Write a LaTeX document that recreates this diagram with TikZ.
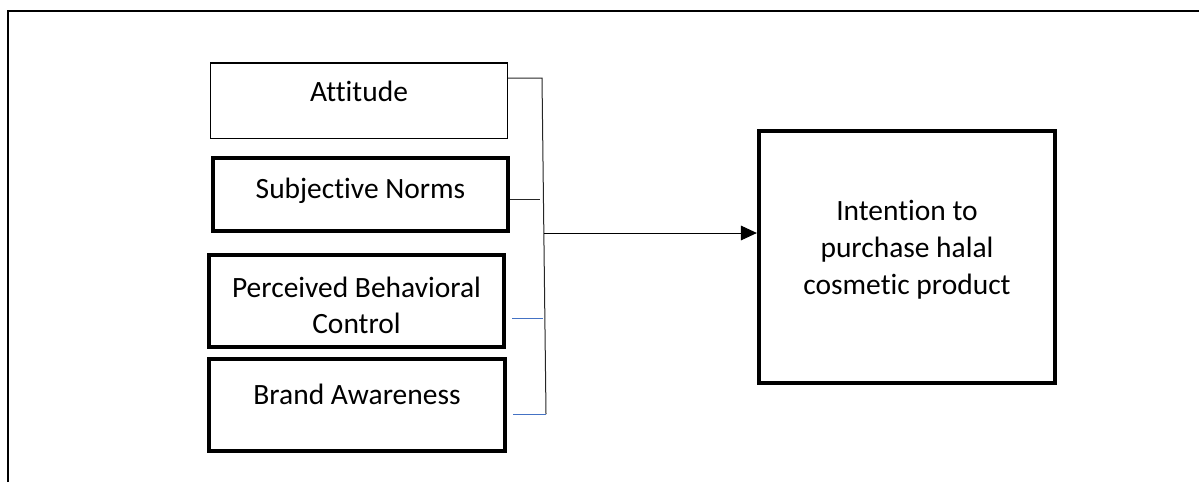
\documentclass[tikz,border=0pt]{standalone}
\usepackage{fontspec}
\setmainfont{Carlito}[Ligatures=NoCommon]
\usepackage{tikz}
\usetikzlibrary{arrows.meta}
\definecolor{linkblue}{HTML}{4472C4}
\tikzstyle{model}=[x=0.75pt, y=-0.75pt, font=\fontsize{22.1}{27.5}\selectfont]
\tikzstyle{frame}=[line width=1.5pt]
\tikzstyle{factor}=[rectangle, draw, align=center, line width=3pt, minimum width=221.5pt, text height=15.5pt]
\tikzstyle{thinfactor}=[factor, line width=1.1pt]
\tikzstyle{outcome}=[factor, line width=3.2pt, minimum width=222pt, minimum height=189pt]
\tikzstyle{link}=[draw=black!85, line width=0.75pt]
\tikzstyle{bluelink}=[draw=linkblue, line width=0.75pt]
\tikzstyle{effect}=[draw=black, line width=0.75pt, -{Triangle[length=12pt, width=11pt]}]
\begin{document}
\begin{tikzpicture}[model]
		\useasboundingbox (0,0) rectangle (1199,482);
		%The page frame
		\draw[frame] (8,482) -- (8,11) -- (1199,11);

		%The predictors
		\node[thinfactor, minimum width=222.4pt, minimum height=56.6pt, text depth=13.5pt] (att) at (359,100.5) {Attitude};
		\node[factor, minimum height=54.8pt, text depth=9.7pt] (sn) at (360.5,194.5) {Subjective Norms};
		\node[factor, minimum height=69pt, text height=49pt, text depth=0pt] (pbc) at (356.5,301) {Perceived Behavioral\\Control};
		\node[factor, minimum width=222pt, minimum height=69pt, text depth=15.7pt] (ba) at (357,405) {Brand Awareness};

		%The outcome
		\node[outcome, text height=57pt, text depth=1.5pt] (int) at (907,257) {Intention to\\purchase halal\\cosmetic product};

		%The bus
		\coordinate (bustop) at (542,78);
		\coordinate (busmid) at (543.8,233);
		\coordinate (busbot) at (546,414);
		\coordinate (snend) at (540,199);
		\coordinate (pbcend) at (542.5,318);
		\draw[link] (att.east |- bustop) -- (bustop) -- (busbot);
		\draw[link] (sn.east |- snend) -- (snend);
		\draw[bluelink] ([xshift=4.5pt]pbc.east |- pbcend) -- (pbcend);
		\draw[bluelink] ([xshift=4.5pt]ba.east |- busbot) -- (busbot);
		\draw[effect] (busmid) -- (int.west |- busmid);
\end{tikzpicture}
\end{document}
